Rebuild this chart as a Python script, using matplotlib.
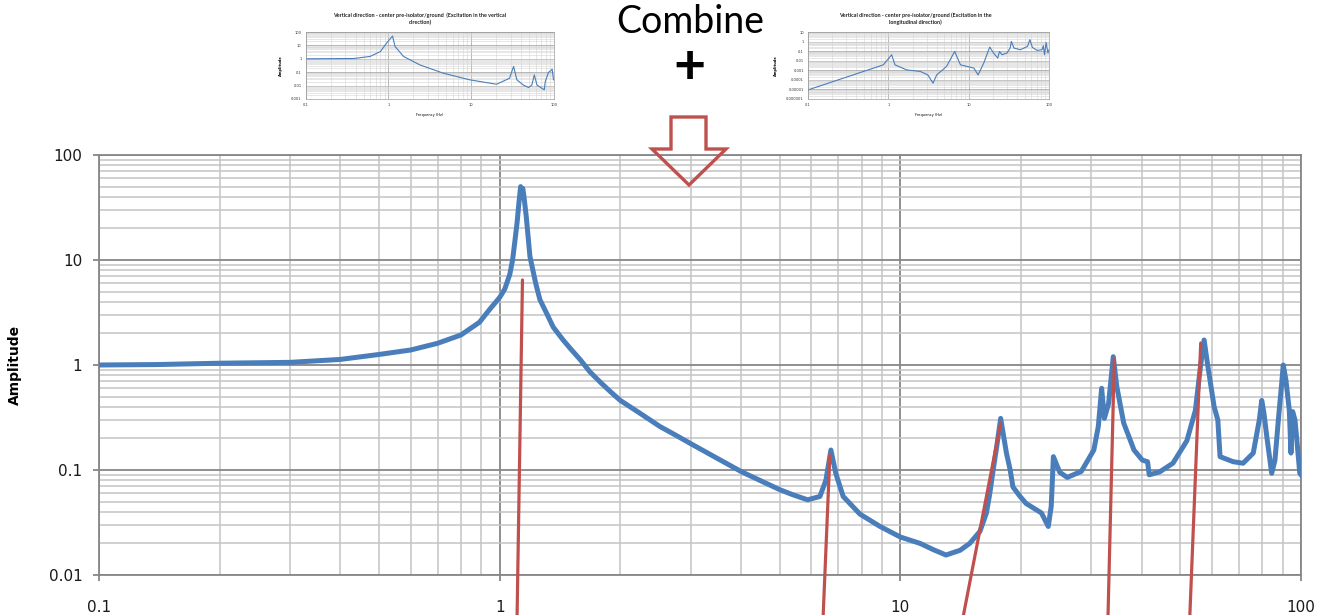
#!/usr/bin/python3

import matplotlib
matplotlib.use('Agg')

import matplotlib.pyplot as plt
import matplotlib.patches as patches
from matplotlib.ticker import FixedLocator, LogLocator, NullFormatter, FixedFormatter

# combined response (main chart)
freq = [0.10, 0.14, 0.20, 0.30, 0.40, 0.50, 0.60, 0.70, 0.80, 0.89, 0.945,
        1.00, 1.03, 1.06, 1.077, 1.09, 1.105, 1.117, 1.128, 1.135, 1.142,
        1.15, 1.165, 1.19, 1.23, 1.26, 1.31, 1.36, 1.44, 1.50, 1.59, 1.68,
        1.78, 1.89, 2.0, 2.24, 2.51, 2.76, 3.0, 3.48, 4.02, 4.45, 5.0, 5.4,
        5.87, 6.3, 6.52, 6.71, 6.9, 7.2, 7.93, 8.9, 10.0, 11.2, 12.1, 13.0,
        14.1, 14.9, 15.8, 16.4, 16.7, 17.1, 17.4, 17.8, 18.4, 18.8, 19.1,
        19.9, 20.6, 22.5, 23.4, 23.8, 24.1, 25.0, 26.1, 28.3,
        30.4, 31.2, 31.8, 32.3, 33.1, 34.0, 34.7, 36.1, 38.3, 40.2, 41.4,
        41.8, 44.4, 47.9, 51.9, 54.5, 56.1, 57.3, 58.4, 60.7, 62.0, 62.8,
        67.7, 71.7, 76.0, 78.7, 79.8, 80.8, 82.0, 84.5, 86.1, 87.8, 89.5,
        90.3, 91.7, 93.5, 94.4, 95.3, 96.6, 97.8, 99.3, 100.0]
amp = [1.00, 1.01, 1.04, 1.06, 1.13, 1.26, 1.39, 1.61, 1.93, 2.55, 3.4,
       4.4, 5.3, 7.3, 10.0, 14.5, 22.5, 35.0, 50.0, 44.0, 48.0,
       40.0, 26.0, 10.8, 6.0, 4.2, 3.1, 2.30, 1.73, 1.44, 1.12, 0.86,
       0.69, 0.557, 0.46, 0.347, 0.26, 0.213, 0.178, 0.130, 0.096, 0.080, 0.065, 0.058,
       0.052, 0.056, 0.080, 0.155, 0.093, 0.056, 0.038, 0.029, 0.023, 0.020, 0.0174, 0.0155,
       0.0172, 0.020, 0.026, 0.039, 0.058, 0.108, 0.167, 0.31, 0.145, 0.10, 0.069,
       0.056, 0.048, 0.039, 0.029, 0.045, 0.134, 0.095, 0.085, 0.097,
       0.155, 0.26, 0.60, 0.31, 0.43, 1.2, 0.62, 0.28, 0.155, 0.124, 0.12,
       0.09, 0.096, 0.116, 0.19, 0.37, 0.96, 1.73, 1.04, 0.40, 0.30, 0.134,
       0.12, 0.116, 0.145, 0.30, 0.46, 0.35, 0.22, 0.093, 0.124, 0.30, 0.67,
       1.0, 0.72, 0.37, 0.145, 0.36, 0.30, 0.18, 0.093, 0.09]

# small chart: excitation in the vertical direction
vert_freq = [0.1, 0.38, 0.6, 0.8, 0.95, 1.12, 1.2, 1.52, 2.4, 4.6, 9.6, 20.2,
             29.0, 32.5, 35.6, 42.6, 49.3, 54.0, 57.8, 62.3, 71.5, 76.3, 78.4,
             86.0, 91.5, 95.0, 98.6]
vert_amp = [1.0, 1.05, 1.5, 3.5, 15.0, 50.0, 8.4, 1.5, 0.35, 0.084, 0.027, 0.0126,
            0.035, 0.27, 0.027, 0.011, 0.0072, 0.011, 0.063, 0.011, 0.0063, 0.0048, 0.02,
            0.1, 0.13, 0.17, 0.027]

# small chart: excitation in the longitudinal direction
long_freq = [0.1, 0.866, 1.1, 1.21, 1.69, 2.5, 3.1, 3.6, 4.0, 5.3, 6.7, 7.9,
             11.6, 13.1, 15.4, 18.3, 20.4, 23.0, 24.2, 26.0, 30.0, 32.8, 34.0,
             36.6, 44.0, 54.0, 57.8, 62.0, 71.0, 82.0, 85.0, 88.0, 92.0, 97.0, 100.0]
long_amp = [8.9e-6, 0.0037, 0.042, 0.0037, 0.0011, 0.00076, 0.00033, 4.5e-5, 0.00033,
            0.0025, 0.093, 0.0037, 0.0017, 0.00033, 0.0056, 0.27, 0.063, 0.019, 0.093,
            0.042, 0.063, 0.21, 1.05, 0.21, 0.14, 0.31, 1.6, 0.25, 0.12, 0.14, 0.37,
            0.042, 0.8, 0.063, 0.14]

# red callout lines: peak point and where they leave the slide (figure fraction)
callout_freq = [1.14, 6.67, 17.8, 34.2, 56.2]
callout_amp = [6.45, 0.139, 0.28, 1.14, 1.62]
callout_foot = [0.392, 0.624, 0.730, 0.840, 0.902]

x_ticks = [0.1, 1, 10, 100]
x_labels = ['0.1', '1', '10', '100']
y_ticks = [0.01, 0.1, 1, 10, 100]
y_labels = ['0.01', '0.1', '1', '10', '100']

BLUE = '#4A7EBB'
RED = '#C0504D'
W, H = 1319, 615


def px(x, y):
    return x / W, 1 - y / H


def thumb(fig, rect, f, a, ylim, yticks, ylabels, title, title_x):
    ax = fig.add_axes(rect)
    ax.set_xscale('log')
    ax.set_yscale('log')
    ax.set_xlim(0.1, 100)
    ax.set_ylim(*ylim)
    ax.plot(f, a, color = BLUE, lw = 0.8)
    ax.xaxis.set_major_locator(FixedLocator(x_ticks))
    ax.xaxis.set_major_formatter(FixedFormatter(x_labels))
    ax.yaxis.set_major_locator(FixedLocator(yticks))
    ax.yaxis.set_major_formatter(FixedFormatter(ylabels))
    ax.xaxis.set_minor_locator(LogLocator(base = 10, subs = range(2, 10), numticks = 20))
    ax.yaxis.set_minor_locator(LogLocator(base = 10, subs = range(2, 10), numticks = 20))
    ax.xaxis.set_minor_formatter(NullFormatter())
    ax.yaxis.set_minor_formatter(NullFormatter())
    ax.grid(which = 'major', color = '#9a9a9a', lw = 0.5)
    ax.grid(which = 'minor', color = '#d4d4d4', lw = 0.4)
    ax.set_axisbelow(True)
    ax.tick_params(which = 'both', length = 0, labelsize = 2.6, pad = 3, labelcolor = '#333333')
    for s in ax.spines.values():
        s.set_color('#9a9a9a')
        s.set_linewidth(0.5)
    ax.set_xlabel('Frequency (Hz)', fontsize = 2.6, labelpad = 4)
    ax.set_ylabel('Amplitude', fontsize = 2.6, fontweight = 'bold', labelpad = 6)
    x, y = px(title_x, 19)
    fig.text(x, y, title, ha = 'center', va = 'center', fontsize = 3.9,
             fontweight = 'bold', family = 'Lato', color = '#222222', linespacing = 1.3)
    return ax


def main():
    fig = plt.figure(figsize = (W / 100, H / 100), dpi = 100)

    ax = fig.add_axes([99 / W, 40 / H, 1202 / W, 420 / H])
    ax.set_xscale('log')
    ax.set_yscale('log')
    ax.set_xlim(0.1, 100)
    ax.set_ylim(0.01, 100)

    ax.plot(freq, amp, color = BLUE, lw = 3.6, solid_joinstyle = 'round', zorder = 3)

    ax.xaxis.set_major_locator(FixedLocator(x_ticks))
    ax.xaxis.set_major_formatter(FixedFormatter(x_labels))
    ax.yaxis.set_major_locator(FixedLocator(y_ticks))
    ax.yaxis.set_major_formatter(FixedFormatter(y_labels))
    ax.xaxis.set_minor_locator(LogLocator(base = 10, subs = range(2, 10), numticks = 20))
    ax.yaxis.set_minor_locator(LogLocator(base = 10, subs = range(2, 10), numticks = 20))
    ax.xaxis.set_minor_formatter(NullFormatter())
    ax.yaxis.set_minor_formatter(NullFormatter())

    ax.grid(which = 'major', color = '#878787', lw = 1.3)
    ax.grid(which = 'minor', color = '#c3c3c3', lw = 1.1)
    ax.set_axisbelow(True)
    for s in ax.spines.values():
        s.set_color('#878787')
        s.set_linewidth(1.3)

    ax.tick_params(which = 'major', direction = 'out', length = 4, width = 1.3,
                   color = '#878787', labelsize = 11, labelcolor = '#1a1a1a')
    ax.tick_params(axis = 'x', which = 'major', pad = 14)
    ax.tick_params(axis = 'y', which = 'major', pad = 8)
    ax.tick_params(which = 'minor', length = 0)

    ax.set_ylabel('Amplitude', fontsize = 10, fontweight = 'bold')
    ax.yaxis.set_label_coords(-0.064, 0.5)

    for f, a, foot in zip(callout_freq, callout_amp, callout_foot):
        ax.annotate('', xy = (f, a), xycoords = 'data',
                    xytext = (foot, -0.005), textcoords = 'figure fraction',
                    arrowprops = dict(arrowstyle = '-', color = RED, lw = 2.3,
                                      shrinkA = 0, shrinkB = 0),
                    annotation_clip = False, zorder = 5)

    # hollow down arrow between the small charts and the main chart
    outline = [px(671, 117), px(706, 117), px(706, 149), px(726, 149),
               px(689, 185), px(652, 149), px(671, 149)]
    fig.add_artist(patches.Polygon(outline, closed = True, fill = False,
                                   edgecolor = RED, lw = 2.4, joinstyle = 'miter',
                                   transform = fig.transFigure, zorder = 6))

    x, y = px(690, 33)
    fig.text(x, y, 'Combine', ha = 'center', va = 'baseline', fontsize = 27,
             family = 'Lato', color = 'black')
    x, y = px(689, 84)
    fig.text(x, y, '+', ha = 'center', va = 'baseline', fontsize = 40,
             family = 'Lato', fontweight = 'bold', color = 'black')

    thumb(fig, [305.7 / W, 1 - 99 / H, 248.3 / W, 67 / H], vert_freq, vert_amp,
          (0.001, 100), [0.001, 0.01, 0.1, 1, 10, 100],
          ['0.001', '0.01', '0.1', '1', '10', '100'],
          'Vertical direction - center pre-isolator/ground  (Excitation in the vertical\ndirection)',
          420)
    thumb(fig, [808 / W, 1 - 99 / H, 241 / W, 67 / H], long_freq, long_amp,
          (1e-6, 10), [1e-6, 1e-5, 1e-4, 1e-3, 0.01, 0.1, 1, 10],
          ['0.000001', '0.00001', '0.0001', '0.001', '0.01', '0.1', '1', '10'],
          'Vertical direction - center pre-isolator/ground (Excitation in the\nlongitudinal direction)',
          915)

    fig.savefig('out.png', dpi = 100)
    plt.close(fig)


if __name__ == '__main__':
    main()
